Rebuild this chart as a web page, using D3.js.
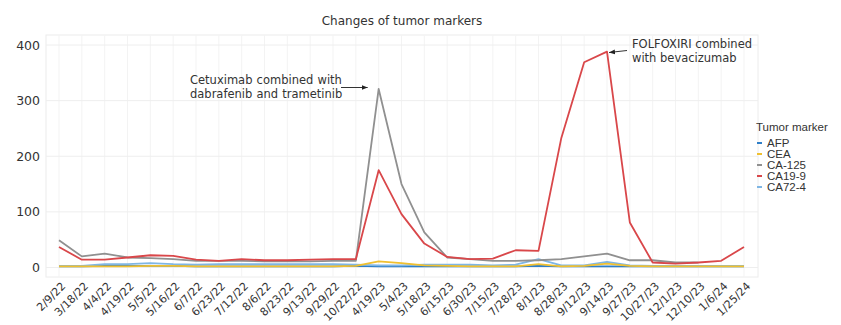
<!DOCTYPE html>
<html>
<head>
<meta charset="utf-8">
<script src="https://cdn.jsdelivr.net/npm/d3@7/dist/d3.min.js"></script>
<style>
  html, body { margin: 0; padding: 0; background: #fff; }
  svg { display: block; font-family: "DejaVu Sans", Verdana, sans-serif; }
</style>
</head>
<body>
<svg id="chart" width="841" height="325"></svg>
<script>
// Visit dates
const dates = ["2/9/22","3/18/22","4/4/22","4/19/22","5/5/22","5/16/22","6/7/22","6/23/22",
  "7/12/22","8/6/22","8/23/22","9/13/22","9/29/22","10/22/22","4/19/23","5/4/23","5/18/23",
  "6/15/23","6/30/23","7/15/23","7/28/23","8/1/23","8/28/23","9/12/23","9/14/23","9/27/23",
  "10/27/23","12/1/23","12/10/23","1/6/24","1/25/24"];

// Marker levels per visit (null = not measured)
const afp   = [2,2,3,3,3,3,2,2,2,2,2,2,2,3,2,2,2,2,2,2,2,3,2,2,2,2,2,2,2,2,2];
const cea   = [2,2,2,2,3,3,2,2,2,2,2,2,2,3,11,8,4,3,2,2,2,6,2,3,7,3,2,2,2,2,2];
const ca125 = [49,20,25,18,17,15,12,12,12,11,11,11,12,12,321,150,63,18,15,12,12,13,15,20,25,13,13,9,9,null,null];
const ca199 = [37,14,14,18,22,21,14,12,15,13,13,14,15,15,175,96,43,19,15,16,31,30,233,369,388,81,9,7,9,12,37];
const ca724 = [3,3,6,6,8,6,5,6,6,6,6,6,6,5,4,4,5,5,5,4,5,15,4,4,10,4,3,3,3,3,3];

const markers = ["AFP","CEA","CA-125","CA19-9","CA72-4"];
const markerColors = ["#2f7fc8","#f0c030","#909090","#d9474a","#7fb6e4"];
const seriesValues = [afp, cea, ca125, ca199, ca724];

const yTicks = [0, 100, 200, 300, 400];

const svg = d3.select("#chart");

const panel = { left: 46, right: 758, top: 35, bottom: 277 };

const x = d3.scalePoint().domain(dates).range([59, 744]);
const y = d3.scaleLinear().domain([0, 400]).range([267.5, 45]);

// Panel background and grid
svg.append("rect")
  .attr("x", panel.left).attr("y", panel.top)
  .attr("width", panel.right - panel.left).attr("height", panel.bottom - panel.top)
  .attr("fill", "#fff").attr("stroke", "#ececec").attr("stroke-width", 1);

svg.append("g").selectAll("line").data(dates).join("line")
  .attr("x1", d => x(d)).attr("x2", d => x(d))
  .attr("y1", panel.top).attr("y2", panel.bottom)
  .attr("stroke", "#f3f3f3").attr("stroke-width", 1);

svg.append("g").selectAll("line").data(yTicks).join("line")
  .attr("x1", panel.left).attr("x2", panel.right)
  .attr("y1", d => y(d)).attr("y2", d => y(d))
  .attr("stroke", "#eeeeee").attr("stroke-width", 1);

// Y axis labels
const yAxis = d3.axisLeft(y).tickValues(yTicks).tickSize(0).tickPadding(6);
const yg = svg.append("g").attr("transform", `translate(${panel.left},0)`).call(yAxis);
yg.select(".domain").remove();
yg.selectAll("text").attr("fill", "#333").attr("font-size", 12.5)
  .attr("font-family", "'DejaVu Sans', sans-serif");

// X axis labels, rotated
const xAxis = d3.axisBottom(x).tickSize(0).tickPadding(0);
const xg = svg.append("g").attr("transform", `translate(0,${panel.bottom})`).call(xAxis);
xg.select(".domain").remove();
xg.selectAll("text")
  .attr("fill", "#333").attr("font-size", 11)
  .attr("font-family", "'DejaVu Sans', sans-serif")
  .attr("text-anchor", "end")
  .attr("dy", "0.35em")
  .attr("transform", "translate(4,7) rotate(-45)");

// Series lines
const line = d3.line()
  .defined(d => d != null)
  .x((d, i) => x(dates[i]))
  .y(d => y(d));

const drawOrder = [0, 4, 1, 2, 3];
drawOrder.forEach(k => {
  svg.append("path")
    .datum(seriesValues[k])
    .attr("fill", "none")
    .attr("stroke", markerColors[k])
    .attr("stroke-width", 1.8)
    .attr("stroke-linejoin", "round")
    .attr("d", line);
});

// Title
svg.append("text")
  .attr("x", 402).attr("y", 25)
  .attr("text-anchor", "middle")
  .attr("font-size", 12).attr("fill", "#333")
  .text("Changes of tumor markers");

// Annotations
const defs = svg.append("defs");
defs.append("marker")
  .attr("id", "arrowhead")
  .attr("viewBox", "0 0 10 10")
  .attr("refX", 10).attr("refY", 5)
  .attr("markerWidth", 6).attr("markerHeight", 6)
  .attr("orient", "auto")
  .append("path").attr("d", "M0,1 L10,5 L0,9 Z").attr("fill", "#222");

const note1 = svg.append("text")
  .attr("x", 190).attr("font-size", 11.5).attr("fill", "#333")
  .attr("word-spacing", 0.5);
note1.append("tspan").attr("x", 190).attr("y", 84).text("Cetuximab combined with");
note1.append("tspan").attr("x", 190).attr("y", 98).text("dabrafenib and trametinib");

svg.append("line")
  .attr("x1", 341).attr("y1", 87.5)
  .attr("x2", x("4/19/23") - 11).attr("y2", 87.5)
  .attr("stroke", "#333").attr("stroke-width", 1)
  .attr("marker-end", "url(#arrowhead)");

const note2 = svg.append("text")
  .attr("x", 632).attr("font-size", 11.5).attr("fill", "#333");
note2.append("tspan").attr("x", 632).attr("y", 48).text("FOLFOXIRI combined");
note2.append("tspan").attr("x", 632).attr("y", 62).text("with bevacizumab");

svg.append("line")
  .attr("x1", 627).attr("y1", 50.5)
  .attr("x2", x("9/14/23") + 2).attr("y2", 52.5)
  .attr("stroke", "#333").attr("stroke-width", 1)
  .attr("marker-end", "url(#arrowhead)");

// Legend
const legend = svg.append("g").attr("transform", "translate(756,0)");
legend.append("text")
  .attr("x", 0).attr("y", 131)
  .attr("font-size", 11.5).attr("fill", "#333")
  .attr("font-family", "'Liberation Sans', Arial, sans-serif")
  .text("Tumor marker");
const items = legend.selectAll("g.item").data(markers).join("g")
  .attr("class", "item")
  .attr("transform", (d, i) => `translate(0,${143 + i * 11})`);
items.append("line")
  .attr("x1", 1).attr("x2", 6).attr("y1", 0).attr("y2", 0)
  .attr("stroke", (d, i) => markerColors[i]).attr("stroke-width", 2);
items.append("text")
  .attr("x", 11).attr("y", 0).attr("dy", "0.35em")
  .attr("font-size", 11.5).attr("fill", "#333")
  .attr("font-family", "'Liberation Sans', Arial, sans-serif")
  .text(d => d);
</script>
</body>
</html>
